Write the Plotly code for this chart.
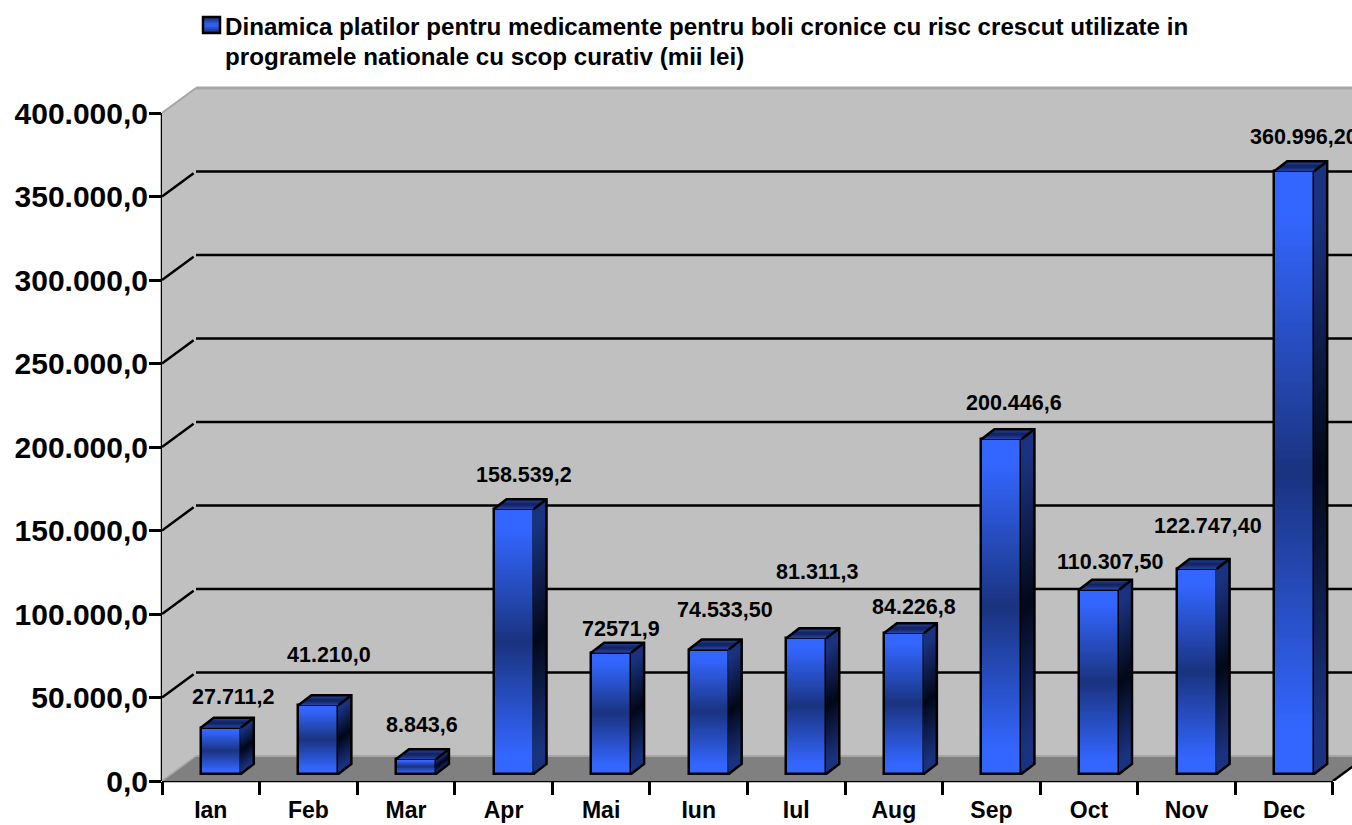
import plotly.graph_objects as go

# ---- data ----
months = ["Ian", "Feb", "Mar", "Apr", "Mai", "Iun", "Iul", "Aug", "Sep", "Oct", "Nov", "Dec"]
values = [27711.2, 41210.0, 8843.6, 158539.2, 72571.9, 74533.5, 81311.3, 84226.8, 200446.6, 110307.5, 122747.4, 360996.2]
value_labels = ["27.711,2", "41.210,0", "8.843,6", "158.539,2", "72571,9", "74.533,50", "81.311,3",
                "84.226,8", "200.446,6", "110.307,50", "122.747,40", "360.996,20"]
y_ticks = [0, 50000, 100000, 150000, 200000, 250000, 300000, 350000, 400000]
y_tick_labels = ["0,0", "50.000,0", "100.000,0", "150.000,0", "200.000,0", "250.000,0", "300.000,0", "350.000,0", "400.000,0"]
title_lines = ["Dinamica platilor pentru medicamente pentru boli cronice cu risc crescut utilizate in",
               "programele nationale cu scop curativ (mii lei)"]

# ---- label nudges (pixels relative to the bar top) ----
label_dx = [13, 11, 6, 10, 10, 16, 11, 10, 13, 11, 11, 10]
label_dy = [31, 50, 34, 34, 24, 40, 66, 26, 36, 28, 43, 34]

# ---- geometry / style ----
W, H = 1352, 825
L, R, T, B = 162, 0, 86, 44
PX_X = 97.58            # px per category
PX_Y = 668 / 400000     # px per value unit
x_max = (W - L - R) / PX_X
y_max = (H - T - B) / PX_Y
wall_dx, wall_dy = 34 / PX_X, 25 / PX_Y
bar_w = 40 / PX_X
bar_shift = 10 / PX_X
bar_base = 7 / PX_Y
side_dx, side_dy = 13 / PX_X, 10 / PX_Y
STEPS = 80
FONT = "Liberation Sans, Arial, sans-serif"
BRIGHT, DARK = (0x33, 0x66, 0xFF), (0x1A, 0x33, 0x80)
SIDE_DARK = (0x03, 0x08, 0x18)
WALL, FLOOR, EDGE = "#C0C0C0", "#808080", "#A6A6A6"


def mix(a, b, f):
    return "rgb(%d,%d,%d)" % tuple(round(a[i] + (b[i] - a[i]) * f) for i in range(3))


def grad(t, edge, centre):
    s = min(1.0, abs(2 * t - 1) / 0.85)
    return mix(centre, edge, s)


centres = [i + 0.5 + bar_shift for i in range(len(values))]
fig = go.Figure()

# front faces: painted from the bottom up so that no seams remain
for k in range(STEPS):
    t = k / STEPS
    fig.add_trace(go.Bar(
        x=centres, y=[v * (1 - t) for v in values], base=[bar_base + v * t for v in values],
        width=bar_w, marker=dict(color=grad(t + 0.5 / STEPS, BRIGHT, DARK), line=dict(width=0)),
        showlegend=False, hoverinfo="skip"))

# side faces
for k in range(STEPS):
    t = k / STEPS
    xs, ys = [], []
    for c, v in zip(centres, values):
        xr = c + bar_w / 2
        lo, hi = bar_base + v * t, bar_base + v
        xs += [xr, xr + side_dx, xr + side_dx, xr, xr, None]
        ys += [lo, lo + side_dy, hi + side_dy, hi, lo, None]
    fig.add_trace(go.Scatter(x=xs, y=ys, mode="lines", line=dict(width=0), fill="toself",
                             fillcolor=grad(t + 0.5 / STEPS, DARK, SIDE_DARK),
                             showlegend=False, hoverinfo="skip"))

# top faces
TOP_STEPS = 8
for k in range(TOP_STEPS):
    t = k / TOP_STEPS
    xs, ys = [], []
    for c, v in zip(centres, values):
        xl, xr, hi = c - bar_w / 2, c + bar_w / 2, bar_base + v
        xs += [xl + side_dx * t, xr + side_dx * t, xr + side_dx, xl + side_dx, xl + side_dx * t, None]
        ys += [hi + side_dy * t, hi + side_dy * t, hi + side_dy, hi + side_dy, hi + side_dy * t, None]
    fig.add_trace(go.Scatter(x=xs, y=ys, mode="lines", line=dict(width=0), fill="toself",
                             fillcolor=grad(t + 0.5 / TOP_STEPS, (0x22, 0x40, 0xA0), (0x10, 0x20, 0x58)),
                             showlegend=False, hoverinfo="skip"))

# outlines of side and top faces
xs, ys = [], []
for c, v in zip(centres, values):
    xl, xr, hi, lo = c - bar_w / 2, c + bar_w / 2, bar_base + v, bar_base
    xs += [xl, xl + side_dx, xr + side_dx, xr + side_dx, xr, None, xr, xr + side_dx, None]
    ys += [hi, hi + side_dy, hi + side_dy, lo + side_dy, lo, None, hi, hi + side_dy, None]
fig.add_trace(go.Scatter(x=xs, y=ys, mode="lines", line=dict(color="black", width=2.5),
                         showlegend=False, hoverinfo="skip"))

# front outline carries the series itself
fig.add_trace(go.Bar(x=centres, y=values, base=[bar_base] * len(values), width=bar_w,
                     name="Dinamica platilor", customdata=months,
                     marker=dict(color="rgba(0,0,0,0)", line=dict(color="black", width=2.5)),
                     showlegend=False, hovertemplate="%{customdata}: %{y}<extra></extra>"))

shapes = []


def poly(pts, fill):
    path = "M" + " L".join(f"{x},{y}" for x, y in pts) + " Z"
    shapes.append(dict(type="path", path=path, xref="x", yref="y", fillcolor=fill,
                       line=dict(width=0), layer="below"))


def seg(x0, y0, x1, y1, color, width, xref="x", yref="y"):
    shapes.append(dict(type="line", x0=x0, y0=y0, x1=x1, y1=y1, xref=xref, yref=yref,
                       line=dict(color=color, width=width), layer="below"))


top_tick = y_ticks[-1]
poly([(0, 0), (wall_dx, wall_dy), (wall_dx, top_tick + wall_dy), (0, top_tick)], WALL)
poly([(wall_dx, wall_dy), (x_max + 1, wall_dy), (x_max + 1, top_tick + wall_dy), (wall_dx, top_tick + wall_dy)], WALL)
poly([(0, 0), (12, 0), (12 + wall_dx, wall_dy), (wall_dx, wall_dy)], FLOOR)

# edges of the box
seg(wall_dx, wall_dy, x_max + 1, wall_dy, EDGE, 2)
seg(0, 0, wall_dx, wall_dy, EDGE, 1.5)
seg(0, top_tick, wall_dx, top_tick + wall_dy, EDGE, 2)
seg(wall_dx, top_tick + wall_dy, x_max + 1, top_tick + wall_dy, EDGE, 3)
# grid lines
for v in y_ticks[1:-1]:
    seg(0, v, wall_dx * 0.93, v + wall_dy * 0.93, "black", 2.5)
    seg(wall_dx, v + wall_dy, x_max + 1, v + wall_dy, "black", 2.5)
# floor right-hand corner
seg(12, 0, x_max + 1, (x_max + 1 - 12) * wall_dy / wall_dx, "black", 2.5)
# axis lines
seg(0, 0, 0, top_tick, "black", 2.5, xref="paper")
seg(0, 0, 12, 0, "black", 2.5, yref="paper")


# legend swatch (pixel placed)
def px(x):
    return (x - L) / (W - L - R)


def py(y):
    return 1 - (y - T) / (H - T - B)


SW_STEPS = 8
for k in range(SW_STEPS):
    y0 = 17 + 16 * k / SW_STEPS
    shapes.append(dict(type="rect", xref="paper", yref="paper", x0=px(203), x1=px(220), y0=py(y0), y1=py(33),
                       fillcolor=grad((k + .5) / SW_STEPS, DARK, BRIGHT), line=dict(width=0), layer="above"))
shapes.append(dict(type="rect", xref="paper", yref="paper", x0=px(203), x1=px(220), y0=py(17), y1=py(33),
                   fillcolor="rgba(0,0,0,0)", line=dict(color="black", width=2.5), layer="above"))

annotations = [dict(x=c, y=bar_base + v, xref="x", yref="y", text=t, showarrow=False, xshift=dx, yshift=dy,
                    xanchor="center", yanchor="middle", font=dict(family=FONT, size=21.5, color="black", weight=700))
               for c, v, t, dx, dy in zip(centres, values, value_labels, label_dx, label_dy)]
for line, cy in zip(title_lines, (26, 56)):
    annotations.append(dict(xref="paper", yref="paper", x=px(224), y=py(cy), text=line, showarrow=False,
                            xanchor="left", yanchor="middle", align="left", borderpad=0,
                            font=dict(family=FONT, size=24.15, color="black", weight=700)))

fig.update_layout(
    width=W, height=H, autosize=False, margin=dict(l=L, r=R, t=T, b=B, pad=0),
    paper_bgcolor="white", plot_bgcolor="white", barmode="overlay", bargap=0, showlegend=False,
    shapes=shapes, annotations=annotations,
    xaxis=dict(range=[0, x_max], automargin=False, showgrid=False, zeroline=False, showline=False,
               tickmode="array", tickvals=[i + 0.5 for i in range(len(months))], ticktext=months,
               ticks="outside", ticklen=8, tickwidth=1, tickcolor="rgba(0,0,0,0)",
               tickfont=dict(family=FONT, size=23, color="black", weight=700),
               minor=dict(tickmode="array", tickvals=list(range(13)), ticks="outside", ticklen=13,
                          tickwidth=2.5, tickcolor="black", showgrid=False)),
    yaxis=dict(range=[0, y_max], automargin=False, showgrid=False, zeroline=False, showline=False,
               tickmode="array", tickvals=y_ticks, ticktext=y_tick_labels,
               ticks="outside", ticklen=12, tickwidth=2.5, tickcolor="black", ticklabelstandoff=-5,
               tickfont=dict(family=FONT, size=30, color="black", weight=700)),
)

fig.write_html("out.html", config=dict(displayModeBar=False),
               post_script="document.body.style.margin='0';document.body.style.overflow='hidden';")
